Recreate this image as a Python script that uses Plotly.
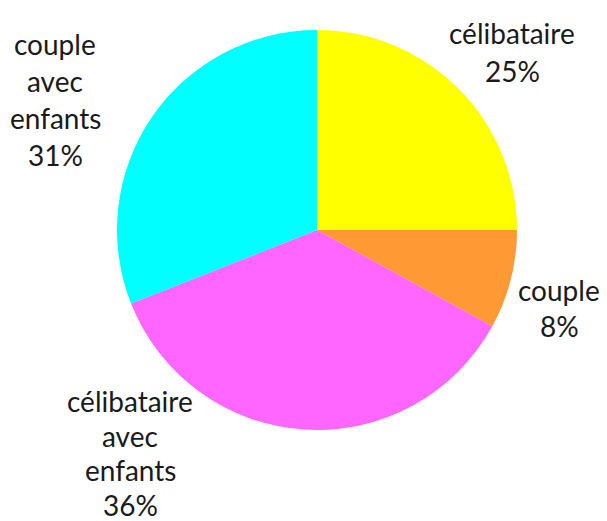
import plotly.graph_objects as go

labels = ["célibataire", "couple", "célibataire avec enfants", "couple avec enfants"]
values = [25, 8, 36, 31]
colors = ["#FFFF00", "#FF9933", "#FF66FF", "#00FFFF"]
label_lines = [["célibataire", "25%"], ["couple", "8%"],
               ["célibataire", "avec", "enfants", "36%"],
               ["couple", "avec", "enfants", "31%"]]

OFF = 8  # page body margin
W, H = 607 - OFF, 521 - OFF
# label anchor (page pixel centre of first line) and line spacing
label_pos = [(512, 33), (559, 290), (130, 401), (55, 44)]
spacings = [38, 36, 34.5, 37]


def px(x):
    return (x - OFF) / W


def py(y):
    return 1 - (y - OFF) / H


fig = go.Figure(go.Pie(
    labels=labels, values=values, sort=False, direction="clockwise", rotation=0,
    marker=dict(colors=colors, line=dict(width=0)),
    textinfo="none", hoverinfo="label+percent", showlegend=False,
    domain=dict(x=[px(117), px(517)], y=[py(430), py(30)]),
))

ann = []
for lines, (x0, y0), sp in zip(label_lines, label_pos, spacings):
    for i, t in enumerate(lines):
        ann.append(dict(text=t, x=px(x0), y=py(y0 + i * sp),
                        xref="paper", yref="paper", showarrow=False,
                        xanchor="center", yanchor="middle",
                        font=dict(family="Lato", size=28, color="#1a1a1a")))

fig.update_layout(width=W, height=H, margin=dict(l=0, r=0, t=0, b=0),
                  paper_bgcolor="white", plot_bgcolor="white", annotations=ann)
fig.write_html("out.html")
